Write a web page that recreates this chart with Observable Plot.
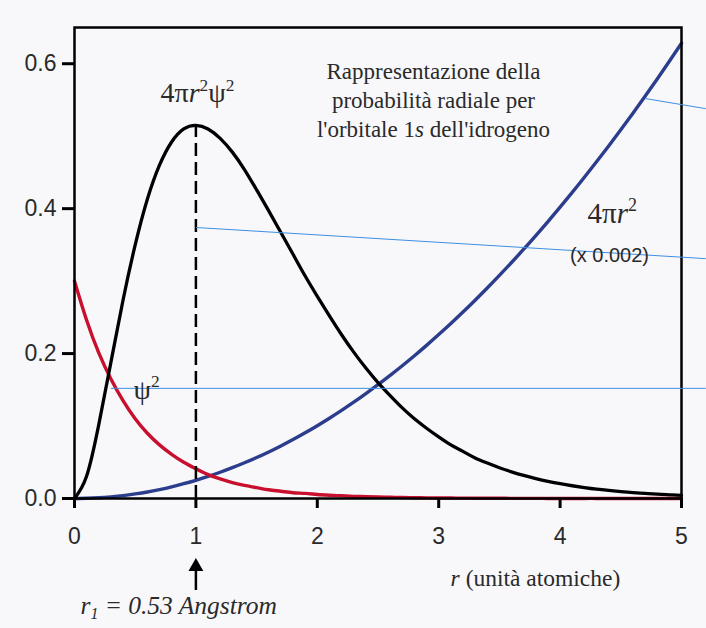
<!DOCTYPE html>
<html><head><meta charset="utf-8">
<script src="https://cdn.jsdelivr.net/npm/d3@7"></script>
<script src="https://cdn.jsdelivr.net/npm/@observablehq/plot@0.6"></script>
<style>
html,body{margin:0;padding:0;background:#f8f8fb;}
#chart{width:706px;height:628px;}
</style></head><body><div id="chart"></div>
<script>
// radius in atomic units
const r      = [0, 0.1, 0.2, 0.3, 0.4, 0.5, 0.6, 0.7, 0.8, 0.9, 1.0, 1.1, 1.2, 1.3, 1.4, 1.5, 1.6, 1.7, 1.8, 1.9, 2.0, 2.1, 2.2, 2.3, 2.4, 2.5, 2.6, 2.7, 2.8, 2.9, 3.0, 3.1, 3.2, 3.3, 3.4, 3.5, 3.6, 3.7, 3.8, 3.9, 4.0, 4.1, 4.2, 4.3, 4.4, 4.5, 4.6, 4.7, 4.8, 4.9, 5.0];
// ψ² (red)
const psi2   = [0.300, 0.246, 0.201, 0.165, 0.135, 0.110, 0.090, 0.074, 0.061, 0.050, 0.041, 0.033, 0.027, 0.022, 0.018, 0.015, 0.012, 0.010, 0.008, 0.007, 0.0055, 0.0045, 0.0037, 0.0030, 0.0025, 0.0020, 0.0017, 0.0014, 0.0011, 0.0009, 0.0007, 0.0006, 0.0005, 0.0004, 0.0003, 0.0003, 0.0002, 0.0002, 0.0002, 0.0001, 0.0001, 0.0001, 0.0001, 0.0001, 0, 0, 0, 0, 0, 0, 0];
// 4πr²ψ² (black)
const radial = [0, 0.031, 0.102, 0.188, 0.274, 0.350, 0.413, 0.460, 0.492, 0.510, 0.515, 0.510, 0.497, 0.478, 0.454, 0.426, 0.397, 0.367, 0.337, 0.307, 0.279, 0.252, 0.226, 0.202, 0.180, 0.160, 0.142, 0.125, 0.110, 0.097, 0.085, 0.074, 0.065, 0.056, 0.049, 0.0425, 0.0368, 0.0318, 0.0275, 0.0237, 0.0204, 0.0176, 0.0151, 0.0129, 0.0111, 0.0095, 0.0081, 0.0070, 0.0059, 0.0051, 0.0043];
// 4πr² (x 0.002) (blue)
const shell  = [0, 0.0003, 0.0010, 0.0023, 0.0040, 0.0063, 0.0090, 0.0123, 0.0161, 0.0204, 0.0251, 0.0304, 0.0362, 0.0425, 0.0493, 0.0565, 0.0643, 0.0726, 0.0814, 0.0907, 0.1005, 0.1108, 0.1216, 0.1329, 0.1448, 0.1571, 0.1699, 0.1832, 0.1970, 0.2113, 0.2262, 0.2415, 0.2573, 0.2737, 0.2905, 0.3079, 0.3257, 0.3440, 0.3629, 0.3822, 0.4021, 0.4224, 0.4433, 0.4647, 0.4865, 0.5089, 0.5318, 0.5551, 0.5790, 0.6034, 0.6283];

const xTicks = [0, 1, 2, 3, 4, 5];
const yTicks = [0, 0.2, 0.4, 0.6];
const peakR = 1, peakP = 0.515;

const titleLines = ["Rappresentazione della", "probabilità radiale per", "l'orbitale 1s dell'idrogeno"];
const labelRadial = "4πr²ψ²";
const labelPsi = "ψ²";
const labelShell = "4πr²";
const labelFactor = "(x 0.002)";
const labelAxis = "r (unità atomiche)";
const labelR1 = "r1 = 0.53 Angstrom";

// thin light-blue annotation strokes present in the picture
const guideLines = [
  {x1: 4.70, y1: 0.552, x2: 5.2, y2: 0.538},
  {x1: 1.00, y1: 0.374, x2: 5.2, y2: 0.331},
  {x1: 0.30, y1: 0.152, x2: 5.2, y2: 0.152}
];

const data = r.map((v, i) => ({r: v, psi2: psi2[i], radial: radial[i], shell: shell[i]}));

const serif = "'Liberation Serif', 'Times New Roman', Times, serif";
const sans = "'Liberation Sans', Arial, Helvetica, sans-serif";
const ink = "#2a2a2a";

const plot = Plot.plot({
  width: 706, height: 628,
  marginLeft: 74, marginRight: 25, marginTop: 27, marginBottom: 130,
  style: {background: "#f8f8fb", fontFamily: sans, fontSize: "23px", overflow: "visible"},
  x: {domain: [0, 5]},
  y: {domain: [0, 0.65]},
  marks: [
    Plot.line(data, {x: "r", y: "shell", stroke: "#2b3d8c", strokeWidth: 3.4, curve: "natural"}),
    Plot.line(data, {x: "r", y: "psi2", stroke: "#c8102e", strokeWidth: 3.4, curve: "natural"}),
    Plot.line(data, {x: "r", y: "radial", stroke: "#000", strokeWidth: 3.3, curve: "natural"}),
    Plot.ruleX([peakR], {x: d => d, y1: () => 0, y2: () => peakP, stroke: "#000", strokeWidth: 2.5, strokeDasharray: "13,6"}),
    Plot.frame({stroke: "#000", strokeWidth: 2.5}),
    Plot.axisY({ticks: yTicks, tickFormat: d => d.toFixed(1), tickSize: 12, tickPadding: 6, strokeWidth: 3, stroke: "#000", fill: ink, fontSize: 23, fontFamily: sans, label: null}),
    Plot.axisX({ticks: xTicks, tickFormat: d => String(d), tickSize: 10, tickPadding: 19, strokeWidth: 3, stroke: "#000", fill: ink, fontSize: 23, fontFamily: sans, label: null}),
    Plot.link(guideLines, {x1: "x1", y1: "y1", x2: "x2", y2: "y2", stroke: "#3d8fe0", strokeWidth: 1}),
    Plot.text([titleLines.join("\n")], {x: () => 2.957, y: () => 0.552, text: d => d, fontFamily: serif, fontSize: 23, lineHeight: 1.27, lineAnchor: "middle", fill: ink}),
    Plot.text([labelRadial], {x: () => 1.013, y: () => 0.559, text: d => d, fontFamily: serif, fontSize: 28, fill: ink}),
    Plot.text([labelPsi], {x: () => 0.486, y: () => 0.150, text: d => d, fontFamily: serif, fontSize: 28, textAnchor: "start", fill: ink}),
    Plot.text([labelShell], {x: () => 4.226, y: () => 0.393, text: d => d, fontFamily: serif, fontSize: 29, textAnchor: "start", fill: ink}),
    Plot.text([labelFactor], {x: () => 4.407, y: () => 0.335, text: d => d, fontFamily: sans, fontSize: 20, fill: ink}),
    Plot.text([labelAxis], {x: () => 3.797, y: () => -0.110, text: d => d, fontFamily: serif, fontSize: 23.5, fill: ink}),
    Plot.text([labelR1], {x: () => 0.049, y: () => -0.148, text: d => d, fontFamily: serif, fontSize: 25.5, fontStyle: "italic", textAnchor: "start", fill: ink}),
    Plot.ruleX([peakR], {x: d => d, y1: () => -0.096, y2: () => -0.127, stroke: "#000", strokeWidth: 2.5}),
    Plot.dot([peakR], {x: d => d, y: () => -0.094, symbol: "triangle", r: 5.5, fill: "#000", stroke: "none"})
  ]
});
document.getElementById("chart").appendChild(plot);

// make font attributes binding as inline styles
d3.select(plot).selectAll("[font-family], [font-size], [font-style]").each(function() {
  const ff = this.getAttribute("font-family"), fz = this.getAttribute("font-size"), fst = this.getAttribute("font-style");
  if (ff) this.style.fontFamily = ff;
  if (fz) this.style.fontSize = /px$/.test(fz) ? fz : fz + "px";
  if (fst) this.style.fontStyle = fst;
});
// axis tick labels: force size
d3.select(plot).selectAll("g[aria-label$='tick label'], g[aria-label$='tick label'] text").each(function() {
  this.style.fontSize = "23px";
  this.style.fontFamily = sans;
});

// rich text: italics, superscripts, subscripts
const rich = {
  [labelRadial]: [["4π"], ["r", "i"], ["2", "sup"], ["ψ"], ["2", "sup"]],
  [labelPsi]: [["ψ"], ["2", "sup"]],
  [labelShell]: [["4π"], ["r", "i"], ["2", "sup"]],
  [labelAxis]: [["r", "i"], [" (unità atomiche)"]],
  [labelR1]: [["r"], ["1", "sub"], [" = 0.53 Angstrom"]],
  [titleLines[2]]: [["l'orbitale 1"], ["s", "i"], [" dell'idrogeno"]]
};
const NS = "http://www.w3.org/2000/svg";
d3.select(plot).selectAll("text, tspan").each(function() {
  if (this.children.length) return;
  const parts = rich[this.textContent];
  if (!parts) return;
  const fs = parseFloat(getComputedStyle(this).fontSize);
  this.textContent = "";
  let shift = 0;
  for (const [t, kind] of parts) {
    const ts = document.createElementNS(NS, "tspan");
    ts.textContent = t;
    let target = 0;
    if (kind === "sup") { target = -0.42 * fs; ts.style.fontSize = (0.62 * fs) + "px"; }
    if (kind === "sub") { target = 0.2 * fs; ts.style.fontSize = (0.62 * fs) + "px"; }
    if (kind === "i") ts.style.fontStyle = "italic";
    if (target !== shift) { ts.setAttribute("dy", target - shift); shift = target; }
    this.appendChild(ts);
  }
});
</script></body></html>
